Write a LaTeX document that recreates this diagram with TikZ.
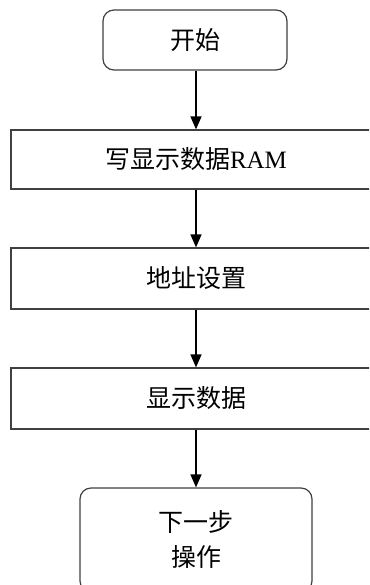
\documentclass[tikz,border=0pt]{standalone}
\usepackage{fontspec}
\newfontfamily\cjk{Noto Sans CJK SC}
\newfontfamily\lat{Liberation Serif}
\usetikzlibrary{arrows.meta}
\tikzset{
  box/.style={draw=black!75, line width=1.2pt, fill=white, inner sep=0pt, font=\cjk\fontsize{25}{35}\selectfont},
  rbox/.style={box, rounded corners=11pt},
  flow/.style={draw=black, line width=1.6pt, -{Triangle[width=11pt,length=13pt]}}
}
\begin{document}
\begin{tikzpicture}[x=1pt,y=-1pt]
\useasboundingbox (0,0) rectangle (369,585);
\clip (0,0) rectangle (369,585);
\node[rbox, minimum width=184pt, minimum height=60pt] (start) at (195,40) {开始};
\node[box, minimum width=370pt, minimum height=59pt] (ram) at (196,159.5) {写显示数据{\lat RAM}};
\node[box, minimum width=370pt, minimum height=61pt] (addr) at (196,278.5) {地址设置};
\node[box, minimum width=370pt, minimum height=61pt] (disp) at (196,398.5) {显示数据};
\node[rbox, minimum width=232pt, minimum height=104pt, align=center] (next) at (196,540) {下一步\\操作};
\draw[flow] (start.south -| 196,0) -- (ram.north -| 196,0);
\draw[flow] (ram.south -| 196,0) -- (addr.north -| 196,0);
\draw[flow] (addr.south -| 196,0) -- (disp.north -| 196,0);
\draw[flow] (disp.south -| 196,0) -- (next.north -| 196,0);
\end{tikzpicture}
\end{document}
